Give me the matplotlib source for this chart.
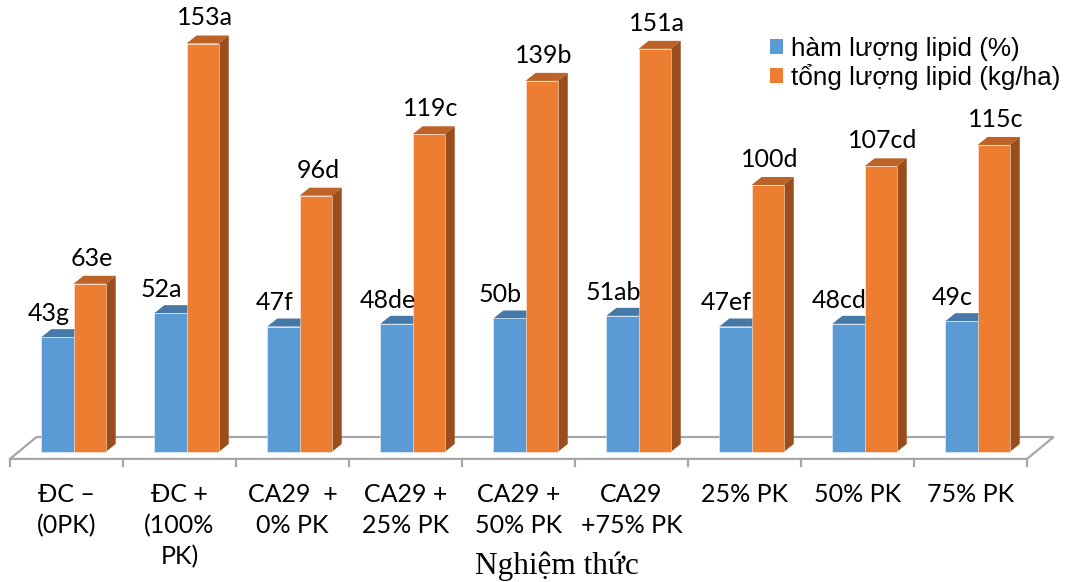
import matplotlib
matplotlib.use("Agg")
import matplotlib.pyplot as plt
from matplotlib.patches import Polygon, Patch

categories = ["ĐC –\n(0PK)", "ĐC +\n(100%\nPK)", "CA29  +\n0% PK", "CA29 +\n25% PK",
              "CA29 +\n50% PK", "CA29\n+75% PK", "25% PK", "50% PK", "75% PK"]
lipid_pct = [43, 52, 47, 48, 50, 51, 47, 48, 49]
lipid_pct_labels = ["43g", "52a", "47f", "48de", "50b", "51ab", "47ef", "48cd", "49c"]
lipid_total = [63, 153, 96, 119, 139, 151, 100, 107, 115]
lipid_total_labels = ["63e", "153a", "96d", "119c", "139b", "151a", "100d", "107cd", "115c"]
series_names = ["hàm lượng lipid (%)", "tổng lượng lipid (kg/ha)"]

blue = ["#5B9BD5", "#4779A8", "#3E6A94"]
orange = ["#ED7D31", "#BE6327", "#9A4D1D"]

fig = plt.figure(figsize=(10.68, 5.82), dpi=100)
ax = fig.add_axes([0, 0, 1, 1])
ax.set_xlim(-0.588, 8.863)
ax.set_ylim(-48.7, 169.3)
ax.axis("off")

# depth of the fake 3d bars and the floor (in data units)
ddx, ddy = 0.0885, 3.0
fdx, fdy = 0.235, 8.2
floor_front = -2.6
w = 0.285
n = len(categories)

# floor outline
floor = Polygon([(-0.5, floor_front), (n - 0.5, floor_front),
                 (n - 0.5 + fdx, floor_front + fdy), (-0.5 + fdx, floor_front + fdy)],
                closed=True, fill=False, edgecolor="#A6A6A6", lw=1.6, zorder=1)
ax.add_patch(floor)
for i in range(n + 1):
    ax.plot([i - 0.5, i - 0.5], [floor_front, floor_front - 2.7], color="#A6A6A6", lw=1.6, zorder=1)


def bar3d(xc, h, cols):
    x0, x1 = xc - w / 2, xc + w / 2
    ax.bar(xc, h, width=w, color=cols[0], edgecolor=(1, 1, 1, 0.45), lw=0.7, zorder=3)
    top = [(x0, h), (x1, h), (x1 + ddx, h + ddy), (x0 + ddx, h + ddy)]
    side = [(x1, 0), (x1, h), (x1 + ddx, h + ddy), (x1 + ddx, ddy)]
    ax.add_patch(Polygon(top, closed=True, facecolor=cols[1], edgecolor="none", zorder=2))
    ax.add_patch(Polygon(side, closed=True, facecolor=cols[2], edgecolor="none", zorder=2))


lab_font = dict(family="Lato", fontsize=18, color="black")
for i in range(n):
    xb, xo = i - 0.08, i + 0.205
    bar3d(xb, lipid_pct[i], blue)
    bar3d(xo, lipid_total[i], orange)
    ax.text(xb - 0.08, lipid_pct[i] + ddy + 3.0, lipid_pct_labels[i], ha="center", va="baseline", zorder=4, **lab_font)
    ax.text(xo + 0.02, lipid_total[i] + ddy + 3.8, lipid_total_labels[i], ha="center", va="baseline", zorder=4, **lab_font)
    ax.text(i, -11.6, categories[i], ha="center", va="top", linespacing=1.42, **lab_font)

fig.text(557 / 1068, 8 / 582, "Nghiệm thức", ha="center", va="baseline",
         family="Liberation Serif", fontsize=22.5)

handles = [Patch(facecolor=blue[0]), Patch(facecolor=orange[0])]
fig.legend(handles, series_names, loc="upper left", bbox_to_anchor=(757 / 1068, 1 - 24 / 582),
           frameon=False, prop=dict(family="Liberation Sans", size=18.8),
           handlelength=0.5, handleheight=0.5, handletextpad=0.3, labelspacing=0.12, borderpad=0)

fig.savefig("out.png", dpi=100)
